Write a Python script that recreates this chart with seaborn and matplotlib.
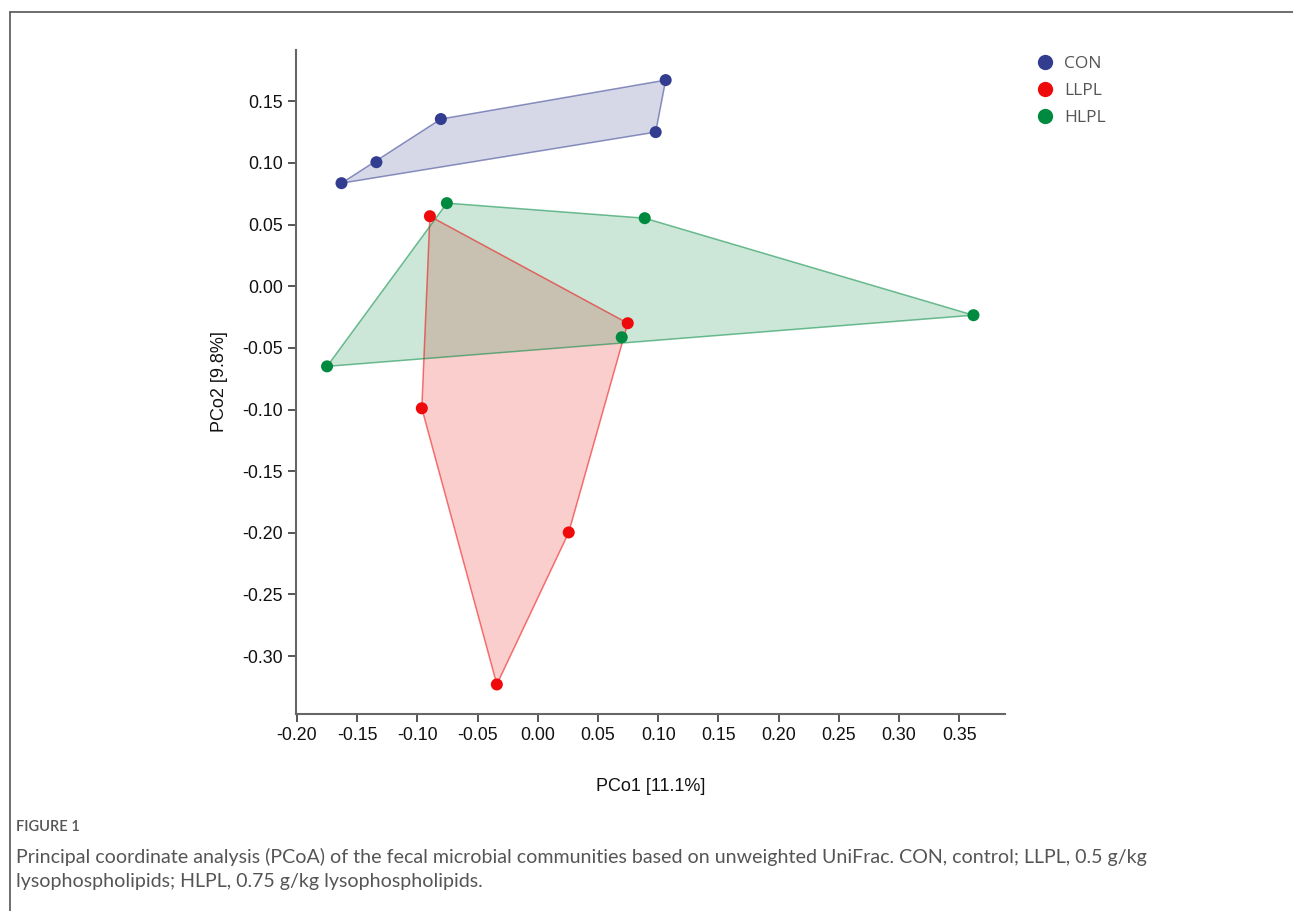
import numpy as np
import pandas as pd
import matplotlib
matplotlib.use("Agg")
import matplotlib.pyplot as plt
from matplotlib.lines import Line2D
import seaborn as sns

#%% Data
groups = ["CON", "LLPL", "HLPL"]
con_x = [-0.163, -0.134, -0.0805, 0.1062, 0.0979]
con_y = [0.0836, 0.1006, 0.1356, 0.1672, 0.1250]
llpl_x = [-0.0896, 0.0747, -0.0963, 0.0257, -0.0340]
llpl_y = [0.0568, -0.0300, -0.0990, -0.1997, -0.3230]
hlpl_x = [-0.0755, 0.0888, 0.3618, 0.0697, -0.1750]
hlpl_y = [0.0674, 0.0552, -0.0235, -0.0414, -0.0650]
x_ticks = [-0.20, -0.15, -0.10, -0.05, 0.00, 0.05, 0.10, 0.15, 0.20, 0.25, 0.30, 0.35]
y_ticks = [-0.30, -0.25, -0.20, -0.15, -0.10, -0.05, 0.00, 0.05, 0.10, 0.15]

colors = {"CON": "#333d8f", "LLPL": "#ee0a0a", "HLPL": "#008a40"}

df = pd.DataFrame({
    "PCo1": con_x + llpl_x + hlpl_x,
    "PCo2": con_y + llpl_y + hlpl_y,
    "group": ["CON"] * len(con_x) + ["LLPL"] * len(llpl_x) + ["HLPL"] * len(hlpl_x),
})


def hull(pts):
    # monotone chain convex hull
    pts = sorted(set(pts))
    def cross(o, a, b):
        return (a[0] - o[0]) * (b[1] - o[1]) - (a[1] - o[1]) * (b[0] - o[0])
    lower, upper = [], []
    for p in pts:
        while len(lower) >= 2 and cross(lower[-2], lower[-1], p) <= 0:
            lower.pop()
        lower.append(p)
    for p in reversed(pts):
        while len(upper) >= 2 and cross(upper[-2], upper[-1], p) <= 0:
            upper.pop()
        upper.append(p)
    return lower[:-1] + upper[:-1]


#%% Plot
sns.set_style("ticks")
plt.rcParams["font.family"] = ["Liberation Sans", "DejaVu Sans"]

fig = plt.figure(figsize=(12.93, 9.11), dpi=100)
ax = fig.add_axes([0.2289, 0.2162, 0.5484, 0.7289])

for g in groups:
    sub = df[df["group"] == g]
    h = np.array(hull(list(zip(sub["PCo1"], sub["PCo2"]))))
    ax.fill(h[:, 0], h[:, 1], facecolor=colors[g], alpha=0.2, edgecolor="none", zorder=1)
    ax.fill(h[:, 0], h[:, 1], facecolor="none", edgecolor=colors[g], alpha=0.55, lw=1.1, zorder=2)

sns.scatterplot(data=df, x="PCo1", y="PCo2", hue="group", hue_order=groups,
                palette=colors, s=75, edgecolor="none", ax=ax, zorder=3, legend=False)

ax.set_xlim(-0.2008, 0.388)
ax.set_ylim(-0.347, 0.1916)
ax.set_xticks(x_ticks)
ax.set_yticks(y_ticks)
ax.set_xticklabels([f"{v:.2f}" for v in x_ticks])
ax.set_yticklabels([f"{v:.2f}" for v in y_ticks])
ax.tick_params(axis="both", labelsize=12.8, colors="#555555", labelcolor="#111111",
               length=6, width=1.4, direction="out")
for side in ["top", "right"]:
    ax.spines[side].set_visible(False)
for side in ["left", "bottom"]:
    ax.spines[side].set_color("#666666")
    ax.spines[side].set_linewidth(1.5)

ax.set_xlabel("PCo1 [11.1%]", fontsize=13, color="#111111", labelpad=24)
ax.set_ylabel("PCo2 [9.8%]", fontsize=13, color="#111111", labelpad=10)

# legend
handles = [Line2D([0], [0], marker="o", ls="none", markersize=11,
                  markerfacecolor=colors[g], markeredgecolor="none", label=g) for g in groups]
leg = fig.legend(handles=handles, loc="upper left", bbox_to_anchor=(0.7825, 0.9555),
                 frameon=False, labelspacing=0.62, handletextpad=0.1,
                 prop={"family": ["Open Sans", "DejaVu Sans"], "size": 12.5})
for t in leg.get_texts():
    t.set_color("#555555")

# frame lines of the page
fig.add_artist(Line2D([0.0075, 1.0], [0.9868, 0.9868], transform=fig.transFigure, color="#555555", lw=1.2))
fig.add_artist(Line2D([0.0075, 0.0075], [0.0, 0.9868], transform=fig.transFigure, color="#555555", lw=1.2))

# caption
cap_font = ["Lato", "DejaVu Sans"]
fig.text(0.0124, 0.0922, "FIGURE 1", fontsize=10.5, color="#555555", family=cap_font, weight="semibold", va="center")
fig.text(0.0124, 0.0593, "Principal coordinate analysis (PCoA) of the fecal microbial communities based on unweighted UniFrac. CON, control; LLPL, 0.5 g/kg",
         fontsize=14.1, color="#555555", family=cap_font, va="center")
fig.text(0.0124, 0.0329, "lysophospholipids; HLPL, 0.75 g/kg lysophospholipids.",
         fontsize=14.1, color="#555555", family=cap_font, va="center")

fig.savefig("out.png", dpi=100)
